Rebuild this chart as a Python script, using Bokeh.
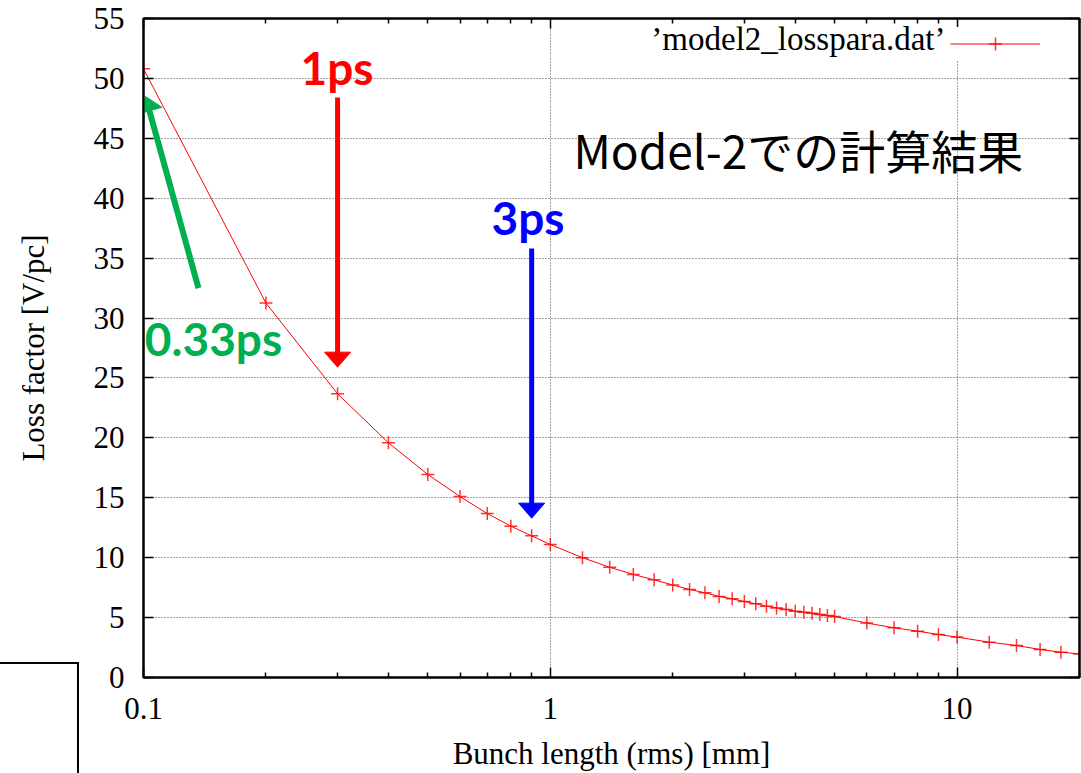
import math

from bokeh.plotting import figure
from bokeh.layouts import column
from bokeh.models import (Range1d, FixedTicker, LinearAxis, LogAxis, Label, Div,
                          Legend, LegendItem, CustomJSTickFormatter)
from bokeh.embed import file_html
from bokeh.resources import INLINE

# Loss factor of model 2 versus rms bunch length
bunch_mm = [0.1, 0.2, 0.3, 0.4, 0.5, 0.6, 0.7, 0.8, 0.9, 1.0,
            1.2, 1.4, 1.6, 1.8, 2.0, 2.2, 2.4, 2.6, 2.8, 3.0,
            3.2, 3.4, 3.6, 3.8, 4.0, 4.2, 4.4, 4.6, 4.8, 5.0,
            6, 7, 8, 9, 10, 12, 14, 16, 18, 20]
loss_v_pc = [50.8, 31.25, 23.68, 19.59, 16.94, 15.1, 13.68, 12.63, 11.82, 11.1,
             10.0, 9.2, 8.6, 8.15, 7.72, 7.35, 7.07, 6.77, 6.57, 6.34,
             6.15, 5.95, 5.81, 5.68, 5.53, 5.45, 5.36, 5.26, 5.18, 5.09,
             4.54, 4.15, 3.87, 3.59, 3.37, 2.95, 2.67, 2.34, 2.11, 1.97]

x_ticks = [0.1, 1, 10]
x_tick_labels = ["0.1", "1", "10"]
x_minor_ticks = [0.2, 0.3, 0.4, 0.5, 0.6, 0.7, 0.8, 0.9,
                 2, 3, 4, 5, 6, 7, 8, 9, 20]
y_ticks = [0, 5, 10, 15, 20, 25, 30, 35, 40, 45, 50, 55]
y_grid_ticks = [5, 10, 15, 20, 25, 30, 35, 40, 45, 50]

series_name = "\u2019model2_losspara.dat\u2019"
note_text = "Model-2での計算結果"

# Bunch-duration call-outs: label, colour, tail and tip (data units)
callout_labels = ["1ps", "3ps", "0.33ps"]
callout_colors = ["#ff0000", "#0000ff", "#00b050"]
callout_tail_x = [0.3, 0.9, 0.1365]
callout_tail_y = [48.4, 35.8, 32.5]
callout_tip_x = [0.3, 0.9, 0.1011]
callout_tip_y = [25.9, 13.3, 48.5]

# Frame geometry (pixels)
FL, FT, FW, FH = 143, 18, 936, 659
XMIN, XMAX, YMIN, YMAX = 0.1, 20.0, 0.0, 55.0
LX0, LX1 = math.log10(XMIN), math.log10(XMAX)


def to_px(x, y):
    px = FL + FW * (math.log10(x) - LX0) / (LX1 - LX0)
    py = FT + FH * (YMAX - y) / (YMAX - YMIN)
    return px, py


def to_data(px, py):
    x = 10 ** (LX0 + (px - FL) / FW * (LX1 - LX0))
    y = YMAX - (py - FT) / FH * (YMAX - YMIN)
    return x, y


def text_anchor(px, baseline_py, size_px):
    # Label anchors sit a little below the visual baseline; compensate
    return to_data(px, baseline_py - 0.43 * size_px)


p = figure(x_axis_type="log", x_range=Range1d(XMIN, XMAX), y_range=Range1d(YMIN, YMAX),
           frame_width=FW, frame_height=FH,
           min_border_left=FL, min_border_top=FT, min_border_right=2, min_border_bottom=96,
           output_backend="svg", toolbar_location=None,
           background_fill_color="white", border_fill_color="white")
p.outline_line_color = "black"
p.outline_line_width = 2

SERIF = "Liberation Serif"
FS = "31px"

xa = p.xaxis[0]
xa.ticker = FixedTicker(ticks=x_ticks, minor_ticks=x_minor_ticks)
xa.formatter = CustomJSTickFormatter(args=dict(tick_vals=x_ticks, tick_text=x_tick_labels), code="""
    for (let i = 0; i < tick_vals.length; i++) {
        if (Math.abs(tick_vals[i] - tick) < 1e-9 * Math.max(1, tick)) return tick_text[i];
    }
    return "";
""")
xa.axis_label = "Bunch length (rms) [mm]"
xa.major_label_standoff = 20
xa.axis_label_standoff = 14

ya = p.yaxis[0]
ya.ticker = FixedTicker(ticks=y_ticks)
ya.axis_label = "Loss factor [V/pc]"
ya.major_label_standoff = 19
ya.axis_label_standoff = 40

for ax in (xa, ya):
    ax.axis_line_color = "black"
    ax.axis_line_width = 2
    ax.major_tick_in = 10
    ax.major_tick_out = 0
    ax.minor_tick_in = 5
    ax.minor_tick_out = 0
    ax.major_tick_line_width = 1.5
    ax.minor_tick_line_width = 1.5
    ax.major_label_text_font = SERIF
    ax.major_label_text_font_size = FS
    ax.major_label_text_color = "black"
    ax.axis_label_text_font = SERIF
    ax.axis_label_text_font_size = FS
    ax.axis_label_text_font_style = "normal"
    ax.axis_label_text_color = "black"

# Mirrored tick marks on the top and right borders (no labels)
blank = CustomJSTickFormatter(code="return '';")
top = LogAxis(ticker=FixedTicker(ticks=x_ticks, minor_ticks=x_minor_ticks), formatter=blank)
right = LinearAxis(ticker=FixedTicker(ticks=y_ticks), formatter=blank)
for ax in (top, right):
    ax.axis_line_color = "black"
    ax.axis_line_width = 2
    ax.major_tick_in = 10
    ax.major_tick_out = 0
    ax.minor_tick_in = 5
    ax.minor_tick_out = 0
    ax.major_tick_line_width = 1.5
    ax.minor_tick_line_width = 1.5
    ax.major_label_text_font_size = "1px"
    ax.major_label_text_alpha = 0
    ax.major_label_standoff = 0
p.add_layout(top, "above")
p.add_layout(right, "right")

p.xgrid.ticker = FixedTicker(ticks=[1, 10])
p.ygrid.ticker = FixedTicker(ticks=y_grid_ticks)
for g in (p.xgrid[0], p.ygrid[0]):
    g.grid_line_color = "#444444"
    g.grid_line_dash = "1 2"
    g.grid_line_width = 1

line_r = p.line(bunch_mm, loss_v_pc, line_color="#ff0000", line_width=1)
pts_r = p.scatter(bunch_mm, loss_v_pc, marker="cross", size=13,
                  line_color="#ff0000", line_width=1.5, line_alpha=0.8)

legend = Legend(items=[LegendItem(label=" ", renderers=[line_r, pts_r])],
                location=(807, 617), glyph_width=90, glyph_height=33,
                padding=4, margin=0, label_standoff=0, spacing=0, label_width=1,
                border_line_color=None, background_fill_color="white",
                background_fill_alpha=1.0, label_text_font_size="10px")
p.add_layout(legend)

lx, ly = text_anchor(945, 53, 33)
p.add_layout(Label(x=lx, y=ly, text=series_name, text_align="right",
                   text_baseline="alphabetic", text_font=SERIF, text_font_size="33px",
                   text_color="black"))

nx, ny = text_anchor(573, 168, 46)
p.add_layout(Label(x=nx, y=ny, text=note_text, text_align="left",
                   text_baseline="alphabetic", text_font="Noto Sans CJK JP",
                   text_font_size="46px", text_color="black"))

# Arrow shafts and heads, built in screen space and mapped back to data units
HEAD_LEN, HEAD_W = 15, 26
shaft_widths = [5, 5, 6]
label_anchor_px = [(336.5, 87), (527.5, 237), (213.0, 358)]
for i, lab in enumerate(callout_labels):
    col = callout_colors[i]
    tx, ty = to_px(callout_tail_x[i], callout_tail_y[i])
    hx, hy = to_px(callout_tip_x[i], callout_tip_y[i])
    d = math.hypot(hx - tx, hy - ty)
    ux, uy = (hx - tx) / d, (hy - ty) / d
    bx, by = hx - ux * HEAD_LEN, hy - uy * HEAD_LEN
    nxp, nyp = -uy, ux
    shaft = [to_data(tx, ty), to_data(bx + ux, by + uy)]
    p.line([s[0] for s in shaft], [s[1] for s in shaft], line_color=col,
           line_width=shaft_widths[i])
    tri = [(hx, hy), (bx + nxp * HEAD_W / 2, by + nyp * HEAD_W / 2),
           (bx - nxp * HEAD_W / 2, by - nyp * HEAD_W / 2)]
    tri_d = [to_data(a, b) for a, b in tri]
    p.patch([t[0] for t in tri_d], [t[1] for t in tri_d], fill_color=col,
            line_color=col, line_width=1)
    ax_, ay_ = text_anchor(label_anchor_px[i][0], label_anchor_px[i][1], 46)
    p.add_layout(Label(x=ax_, y=ay_, text=lab, text_align="center",
                       text_baseline="alphabetic", text_font="Lato",
                       text_font_style="bold", text_font_size="46px", text_color=col))

# Open box in the lower-left corner of the page
corner = Div(text="", width=81, height=114, margin=0,
             styles={"position": "absolute", "left": "-2px", "top": "662px",
                     "border-top": "2px solid black", "border-right": "2px solid black",
                     "box-sizing": "border-box"})

page = column(p, corner, spacing=0)
open("out.html", "w").write(file_html(page, INLINE))
